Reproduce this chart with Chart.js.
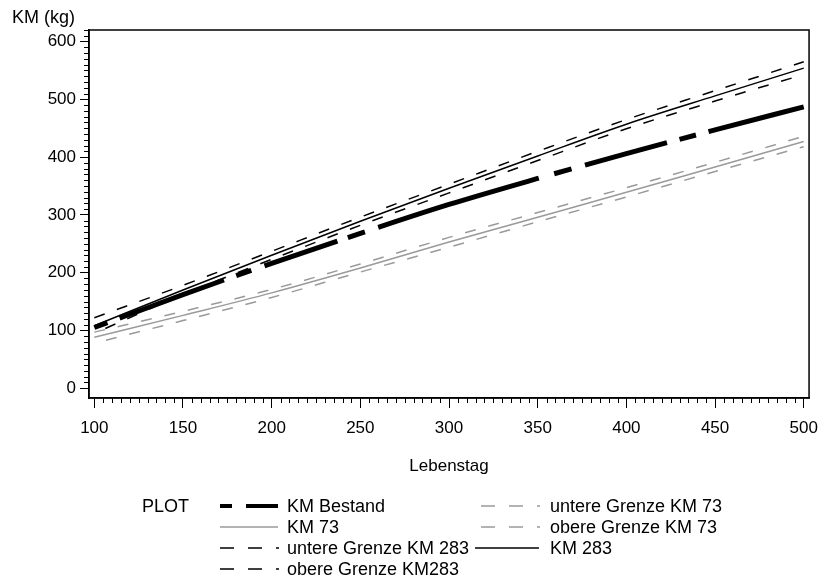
<!DOCTYPE html>
<html>
<head>
<meta charset="utf-8">
<script src="https://cdn.jsdelivr.net/npm/chart.js@4.4.1/dist/chart.umd.min.js"></script>
<style>
  html, body { margin: 0; padding: 0; background: #fff; }
  #wrap { position: relative; width: 828px; height: 577px; overflow: hidden; }
  #chart { position: absolute; left: 0; top: 0; }
  .lg-text { position: absolute; font: 18px "Liberation Sans", Arial, sans-serif; color: #000; white-space: nowrap; line-height: 20px; }
  .lg-line { position: absolute; overflow: visible; }
</style>
</head>
<body>
<div id="wrap">
  <canvas id="chart" width="828" height="577"></canvas>
  <div id="legend"></div>
</div>
<script>
// ── data ──────────────────────────────────────────────────────────────────

const days = [100, 150, 200, 250, 300, 350, 400, 450, 500];
const kmBestand = [105, 162, 216, 268, 318, 363, 406, 447, 487];
const km73 = [88, 126, 165, 208, 253, 296, 339, 383, 427];
const km73Lower = [78, 117, 157, 201, 244, 288, 331, 375, 418];
const km73Upper = [97, 133, 171, 215, 261, 304, 347, 391, 436];
const km283 = [108, 170, 230, 289, 346, 402, 457, 506, 554];
const km283Lower = [95, 162, 223, 282, 338, 394, 449, 497, 543];
const km283Upper = [122, 178, 237, 296, 353, 410, 465, 515, 565];

const xTickValues = [100, 150, 200, 250, 300, 350, 400, 450, 500];
const yTickValues = [0, 100, 200, 300, 400, 500, 600];

const FONT = { family: "'Liberation Sans', Arial, sans-serif", size: 17 };
const GREY = "#9a9a9a";

const pts = (ys) => days.map((d, i) => ({ x: d, y: ys[i] }));

// ── minor ticks + closed frame ────────────────────────────────────────────

const frameAndMinorTicks = {
  id: "frameAndMinorTicks",
  afterDraw(chart) {
    const { ctx, chartArea: a, scales } = chart;
    ctx.save();
    ctx.strokeStyle = "#000";
    ctx.lineWidth = 1;
    ctx.beginPath();
    for (let v = 100; v <= 500; v += 5) {
      if (v % 50 === 0) continue;
      const x = Math.round(scales.x.getPixelForValue(v)) + 0.5;
      ctx.moveTo(x, a.bottom);
      ctx.lineTo(x, a.bottom + 5);
    }
    for (let v = 0; v <= 620; v += 10) {
      if (v % 100 === 0) continue;
      const y = Math.round(scales.y.getPixelForValue(v)) + 0.5;
      ctx.moveTo(a.left - 5, y);
      ctx.lineTo(a.left, y);
    }
    ctx.stroke();
    ctx.lineWidth = 1.5;
    ctx.strokeRect(a.left, a.top, a.right - a.left, a.bottom - a.top);
    ctx.restore();
  },
};

// ── chart ─────────────────────────────────────────────────────────────────

const chart = new Chart(document.getElementById("chart"), {
  type: "line",
  data: {
    datasets: [
      {
        label: "KM Bestand",
        data: pts(kmBestand),
        borderColor: "#000",
        borderWidth: 5,
        borderDash: [14, 13, 111, 13, 16, 14, 77, 11, 18, 14, 168, 16, 18, 14, 85, 13, 17, 13, 300],
        order: 0,
      },
      { label: "KM 73", data: pts(km73), borderColor: GREY, borderWidth: 1.5, order: 3 },
      {
        label: "untere Grenze KM 283",
        data: pts(km283Lower),
        borderColor: "#000",
        borderWidth: 1.5,
        borderDash: [11, 13],
        borderDashOffset: 12,
        order: 2,
      },
      {
        label: "obere Grenze KM283",
        data: pts(km283Upper),
        borderColor: "#000",
        borderWidth: 1.5,
        borderDash: [11, 13],
        order: 2,
      },
      {
        label: "untere Grenze KM 73",
        data: pts(km73Lower),
        borderColor: GREY,
        borderWidth: 1.5,
        borderDash: [11, 13],
        borderDashOffset: 12,
        order: 3,
      },
      {
        label: "obere Grenze KM 73",
        data: pts(km73Upper),
        borderColor: GREY,
        borderWidth: 1.5,
        borderDash: [11, 13],
        order: 3,
      },
      { label: "KM 283", data: pts(km283), borderColor: "#000", borderWidth: 1.5, order: 1 },
    ],
  },
  options: {
    responsive: false,
    animation: false,
    devicePixelRatio: 1,
    parsing: false,
    elements: {
      point: { radius: 0 },
      line: { cubicInterpolationMode: "monotone", fill: false },
    },
    layout: { padding: { left: 12, right: 11, top: 0, bottom: 100 } },
    plugins: {
      legend: { display: false },
      tooltip: { enabled: false },
      title: {
        display: true,
        text: "KM (kg)",
        align: "start",
        color: "#000",
        font: { ...FONT, size: 18, weight: "normal" },
        padding: { top: 7, bottom: 1.4 },
      },
    },
    scales: {
      x: {
        type: "linear",
        min: 97,
        max: 503,
        afterBuildTicks: (s) => { s.ticks = xTickValues.map((value) => ({ value })); },
        afterFit: (s) => { s.height = 79; },
        ticks: { color: "#000", font: FONT, padding: 10, maxRotation: 0 },
        grid: { drawOnChartArea: false, drawTicks: true, tickLength: 10, color: "#000", lineWidth: 1 },
        border: { display: true, color: "#000", width: 1.5 },
        title: { display: true, text: "Lebenstag", color: "#000", font: FONT, padding: 0 },
      },
      y: {
        type: "linear",
        min: -17,
        max: 620,
        afterBuildTicks: (s) => { s.ticks = yTickValues.map((value) => ({ value })); },
        afterFit: (s) => { s.width = 77; },
        ticks: { color: "#000", font: FONT, padding: 4 },
        grid: { drawOnChartArea: false, drawTicks: true, tickLength: 9, color: "#000", lineWidth: 1 },
        border: { display: true, color: "#000", width: 1.5 },
      },
    },
  },
  plugins: [frameAndMinorTicks],
});

// ── legend (SAS style, two columns under the plot) ────────────────────────

function buildLegend(chart) {
  const box = document.getElementById("legend");
  const rowY = [506, 527, 548, 569];
  const ciDash = "14 14 14 14 3 200";
  const entries = [
    { ds: 0, row: 0, x0: 220, x1: 278, text: 287, dash: "12 14 32 200", width: 4 },
    { ds: 1, row: 1, x0: 220, x1: 278, text: 287 },
    { ds: 2, row: 2, x0: 220, x1: 279, text: 287, dash: ciDash },
    { ds: 3, row: 3, x0: 220, x1: 279, text: 287, dash: ciDash },
    { ds: 4, row: 0, x0: 481, x1: 540, text: 550, dash: ciDash },
    { ds: 5, row: 1, x0: 481, x1: 540, text: 550, dash: ciDash },
    { ds: 6, row: 2, x0: 475, x1: 539, text: 550 },
  ];

  const plot = document.createElement("div");
  plot.className = "lg-text";
  plot.textContent = "PLOT";
  plot.style.left = "142px";
  plot.style.top = rowY[0] - 10 + "px";
  box.appendChild(plot);

  entries.forEach((e) => {
    const ds = chart.data.datasets[e.ds];
    const y = rowY[e.row];
    const w = e.x1 - e.x0;
    const svg = document.createElementNS("http://www.w3.org/2000/svg", "svg");
    svg.setAttribute("class", "lg-line");
    svg.setAttribute("width", w);
    svg.setAttribute("height", 8);
    svg.style.left = e.x0 + "px";
    svg.style.top = y - 4 + "px";
    const line = document.createElementNS("http://www.w3.org/2000/svg", "line");
    line.setAttribute("x1", 0);
    line.setAttribute("x2", w);
    line.setAttribute("y1", 4);
    line.setAttribute("y2", 4);
    line.setAttribute("stroke", ds.borderColor);
    line.setAttribute("stroke-width", e.width || 1.5);
    if (e.dash) line.setAttribute("stroke-dasharray", e.dash);
    svg.appendChild(line);
    box.appendChild(svg);

    const label = document.createElement("div");
    label.className = "lg-text";
    label.textContent = ds.label;
    label.style.left = e.text + "px";
    label.style.top = y - 10 + "px";
    box.appendChild(label);
  });
}

buildLegend(chart);
</script>
</body>
</html>
